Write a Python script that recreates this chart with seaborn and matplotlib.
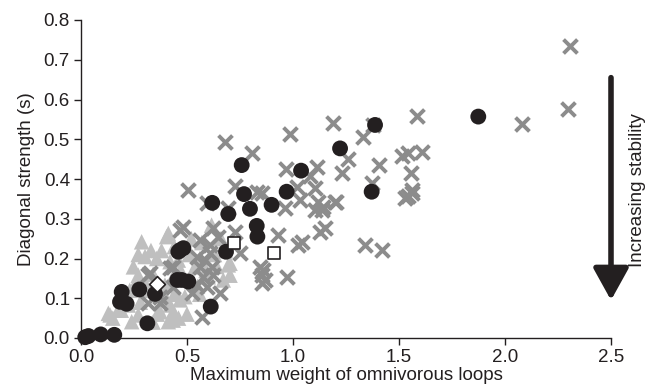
import numpy as np
import pandas as pd
import matplotlib
matplotlib.use('Agg')
import matplotlib.pyplot as plt
import seaborn as sns

# black circles
circ_x = [0.02, 0.035, 0.093, 0.157, 0.192, 0.184, 0.215, 0.275, 0.349, 0.313,
          0.459, 0.454, 0.758, 0.769, 0.619, 0.695, 0.797, 0.899, 0.829, 0.832,
          0.483, 0.467, 0.684, 0.475, 0.506, 0.612, 1.387, 1.222, 1.038, 0.970,
          1.371, 1.874]
circ_y = [0.002, 0.005, 0.009, 0.008, 0.116, 0.091, 0.086, 0.122, 0.111, 0.037,
          0.217, 0.146, 0.435, 0.362, 0.340, 0.312, 0.325, 0.335, 0.282, 0.255,
          0.226, 0.221, 0.217, 0.146, 0.142, 0.079, 0.536, 0.477, 0.421, 0.368,
          0.368, 0.557]

# grey crosses
cross_x = [2.307, 2.299, 2.079, 1.583, 1.187, 1.332, 1.377, 1.261, 1.230, 1.407,
           1.513, 1.544, 1.607, 1.555, 1.560, 1.528, 1.560, 1.541, 1.371, 1.418,
           1.340, 1.198, 1.143, 1.151, 1.127, 0.986, 0.967, 1.112, 1.080, 1.017,
           1.104, 1.033, 1.119, 1.104, 1.135, 1.203, 0.962, 0.852, 0.931, 1.041,
           1.025, 0.970, 0.860, 0.868, 0.506, 0.726, 0.593, 0.829, 0.695, 0.483,
           0.624, 0.648, 0.726, 0.561, 0.608, 0.608, 0.750, 0.546, 0.585, 0.561,
           0.616, 0.435, 0.577, 0.624, 0.546, 0.593, 0.522, 0.656, 0.569, 0.844,
           0.852, 0.852, 0.325, 0.420, 0.318, 0.373, 0.435, 0.467, 0.373, 0.318,
           0.679, 0.808]
cross_y = [0.735, 0.575, 0.538, 0.558, 0.542, 0.506, 0.536, 0.450, 0.414, 0.434,
           0.458, 0.465, 0.469, 0.414, 0.372, 0.351, 0.364, 0.357, 0.389, 0.221,
           0.234, 0.343, 0.330, 0.276, 0.267, 0.513, 0.424, 0.431, 0.408, 0.381,
           0.377, 0.347, 0.343, 0.322, 0.322, 0.343, 0.326, 0.364, 0.259, 0.242,
           0.234, 0.154, 0.171, 0.146, 0.372, 0.382, 0.339, 0.368, 0.326, 0.280,
           0.276, 0.255, 0.267, 0.247, 0.234, 0.213, 0.213, 0.205, 0.196, 0.179,
           0.179, 0.179, 0.154, 0.158, 0.133, 0.129, 0.112, 0.112, 0.054, 0.179,
           0.158, 0.138, 0.163, 0.175, 0.087, 0.087, 0.129, 0.272, 0.104, 0.158,
           0.494, 0.465]

# light grey triangles
tri_x = [0.286, 0.404, 0.302, 0.357, 0.247, 0.270, 0.420, 0.396, 0.129, 0.176,
         0.223, 0.270, 0.239, 0.373, 0.412, 0.420, 0.137, 0.435, 0.561, 0.703,
         0.703, 0.467, 0.412, 0.616, 0.695, 0.671, 0.538, 0.435, 0.490, 0.600,
         0.459, 0.428, 0.200, 0.330, 0.250, 0.360, 0.520, 0.550, 0.500, 0.630,
         0.660, 0.330, 0.150, 0.190, 0.280, 0.310, 0.340, 0.380, 0.270, 0.440,
         0.470, 0.510, 0.570, 0.590, 0.640, 0.680, 0.520, 0.440, 0.400, 0.340,
         0.460, 0.560, 0.230]
tri_y = [0.242, 0.255, 0.205, 0.200, 0.179, 0.158, 0.192, 0.133, 0.062, 0.070,
         0.083, 0.058, 0.041, 0.066, 0.041, 0.083, 0.058, 0.045, 0.200, 0.188,
         0.158, 0.096, 0.263, 0.284, 0.184, 0.146, 0.179, 0.066, 0.104, 0.154,
         0.196, 0.146, 0.100, 0.120, 0.130, 0.060, 0.250, 0.130, 0.060, 0.210,
         0.250, 0.220, 0.050, 0.070, 0.090, 0.130, 0.160, 0.220, 0.210, 0.230,
         0.170, 0.210, 0.240, 0.170, 0.180, 0.220, 0.150, 0.110, 0.100, 0.040,
         0.050, 0.110, 0.120]

# open squares and diamond
sq_x = [0.723, 0.910]
sq_y = [0.238, 0.215]
dia_x = [0.360]
dia_y = [0.135]

x_ticks = [0.0, 0.5, 1.0, 1.5, 2.0, 2.5]
y_ticks = [0.0, 0.1, 0.2, 0.3, 0.4, 0.5, 0.6, 0.7, 0.8]

sns.set_style("ticks")
plt.rcParams['font.family'] = ['Liberation Sans', 'DejaVu Sans']

ink = '#231f20'
fs = 13.5
fig = plt.figure(figsize=(6.56, 3.92), dpi=100)
ax = fig.add_axes([81/656, 1-338/392, 530/656, 318/392])

sns.scatterplot(x=tri_x, y=tri_y, marker='^', s=125, color='#bfbfbf',
                edgecolor='none', linewidth=0, ax=ax, clip_on=False, zorder=2)
sns.scatterplot(x=cross_x, y=cross_y, marker='x', s=100, color='#8c8c8c',
                linewidth=2.8, ax=ax, clip_on=False, zorder=3)
sns.scatterplot(x=circ_x, y=circ_y, marker='o', s=130, color=ink,
                edgecolor='none', linewidth=0, ax=ax, clip_on=False, zorder=4)
sns.scatterplot(x=sq_x, y=sq_y, marker='s', s=80, color='white',
                edgecolor=ink, linewidth=1.2, ax=ax, clip_on=False, zorder=5)
sns.scatterplot(x=dia_x, y=dia_y, marker='D', s=65, color='white',
                edgecolor=ink, linewidth=1.2, ax=ax, clip_on=False, zorder=5)

ax.set_xlim(0, 2.5)
ax.set_ylim(0, 0.8)
ax.set_xticks(x_ticks)
ax.set_xticklabels(['%.1f' % v for v in x_ticks])
ax.set_yticks(y_ticks)
ax.set_yticklabels(['%.1f' % v for v in y_ticks])
ax.tick_params(labelsize=fs, length=5, width=1, color=ink, labelcolor=ink, pad=3)
for sp in ['left', 'bottom']:
    ax.spines[sp].set_color(ink)
    ax.spines[sp].set_linewidth(1)
sns.despine(ax=ax)

ax.set_xlabel('Maximum weight of omnivorous loops', fontsize=fs, color=ink, labelpad=1)
ax.set_ylabel('Diagonal strength (s)', fontsize=fs, color=ink, labelpad=6)

# stability arrow on the right
ax.annotate('', xy=(2.5, 0.095), xytext=(2.5, 0.655),
            arrowprops=dict(arrowstyle='-|>,head_length=0.65,head_width=0.36',
                            mutation_scale=30, lw=4, color=ink,
                            shrinkA=0, shrinkB=0),
            annotation_clip=False)
ax.text(2.625, 0.372, 'Increasing stability', rotation=90, ha='center', va='center',
        fontsize=fs, color=ink, clip_on=False)

fig.savefig('out.png', dpi=100)
